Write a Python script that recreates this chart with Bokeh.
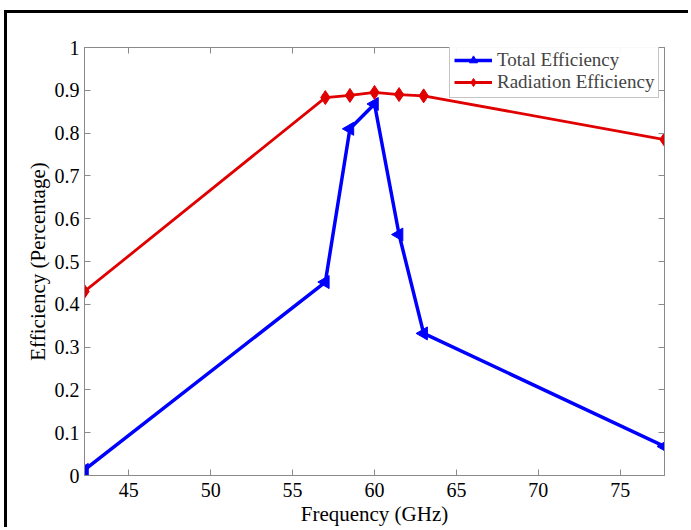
import math
from bokeh.plotting import figure
from bokeh.models import LinearAxis, Legend, LegendItem, FixedTicker
from bokeh.embed import file_html
from bokeh.resources import INLINE

freq = [42.3, 57, 58.5, 60, 61.5, 63, 77.7]
total_eff = [0.013, 0.452, 0.81, 0.868, 0.563, 0.332, 0.068]
rad_eff = [0.43, 0.883, 0.888, 0.895, 0.89, 0.887, 0.785]
x_ticks = [45, 50, 55, 60, 65, 70, 75]
y_ticks = [0, 0.1, 0.2, 0.3, 0.4, 0.5, 0.6, 0.7, 0.8, 0.9, 1]
y_labels = {0: "0", 0.1: "0.1", 0.2: "0.2", 0.3: "0.3", 0.4: "0.4", 0.5: "0.5",
            0.6: "0.6", 0.7: "0.7", 0.8: "0.8", 0.9: "0.9", 1: "1"}

FONT = "Liberation Serif"
BLUE = "#0000ff"
RED = "#e00000"
AX = "#8a8a8a"

p = figure(width=684, height=517, x_range=(42.3, 77.7), y_range=(0, 1),
           output_backend="svg", toolbar_location=None,
           min_border_left=77, min_border_right=27, min_border_top=34, min_border_bottom=55,
           x_axis_label="Frequency (GHz)", y_axis_label="Efficiency (Percentage)")
p.styles = {"margin-left": "4px", "margin-top": "10px",
            "border-left": "3px solid black", "border-top": "3px solid black"}
p.outline_line_color = AX
p.xgrid.grid_line_color = None
p.ygrid.grid_line_color = None

for ax in (p.xaxis[0], p.yaxis[0]):
    ax.axis_line_color = AX
    ax.major_tick_line_color = AX
    ax.major_tick_in = 6
    ax.major_tick_out = 0
    ax.minor_tick_line_color = None
    ax.major_label_text_font = FONT
    ax.major_label_text_font_size = "20px"
    ax.major_label_text_color = "black"
    ax.axis_label_text_font = FONT
    ax.axis_label_text_font_size = "21px"
    ax.axis_label_text_font_style = "normal"
    ax.axis_label_text_color = "black"

p.xaxis[0].ticker = FixedTicker(ticks=x_ticks)
p.yaxis[0].ticker = FixedTicker(ticks=y_ticks)
p.yaxis[0].major_label_overrides = y_labels
p.xaxis[0].major_label_standoff = 7
p.xaxis[0].axis_label_standoff = 2
p.yaxis[0].major_label_standoff = 5
p.yaxis[0].axis_label_standoff = 2

top = LinearAxis(ticker=FixedTicker(ticks=x_ticks),
                 major_label_overrides={t: "" for t in x_ticks})
right = LinearAxis(ticker=FixedTicker(ticks=y_ticks),
                   major_label_overrides={t: "" for t in y_ticks})
for ax in (top, right):
    ax.axis_line_color = AX
    ax.major_tick_line_color = AX
    ax.major_tick_in = 6
    ax.major_tick_out = 0
    ax.minor_tick_line_color = None
    ax.major_label_standoff = 0
p.add_layout(top, "above")
p.add_layout(right, "right")

bl = p.line(freq, total_eff, line_color=BLUE, line_width=3.5)
bm = p.scatter(freq, total_eff, marker="triangle", angle=math.pi / 2, size=13,
               fill_color=BLUE, line_color=BLUE)
rl = p.line(freq, rad_eff, line_color=RED, line_width=2.8)
rm = p.scatter(freq, rad_eff, marker="diamond", size=14,
               fill_color=RED, line_color=RED)

legend = Legend(items=[LegendItem(label="Total Efficiency", renderers=[bl, bm]),
                       LegendItem(label="Radiation Efficiency", renderers=[rl, rm])],
                location=(365, 377))
legend.label_text_font = FONT
legend.label_text_font_size = "19px"
legend.border_line_color = AX
legend.border_line_width = 1
legend.margin = 0
legend.padding = 4
legend.spacing = 0
legend.glyph_width = 38
legend.glyph_height = 20
legend.label_height = 20
legend.label_standoff = 5
p.add_layout(legend)

open("out.html", "w").write(file_html(p, INLINE))
